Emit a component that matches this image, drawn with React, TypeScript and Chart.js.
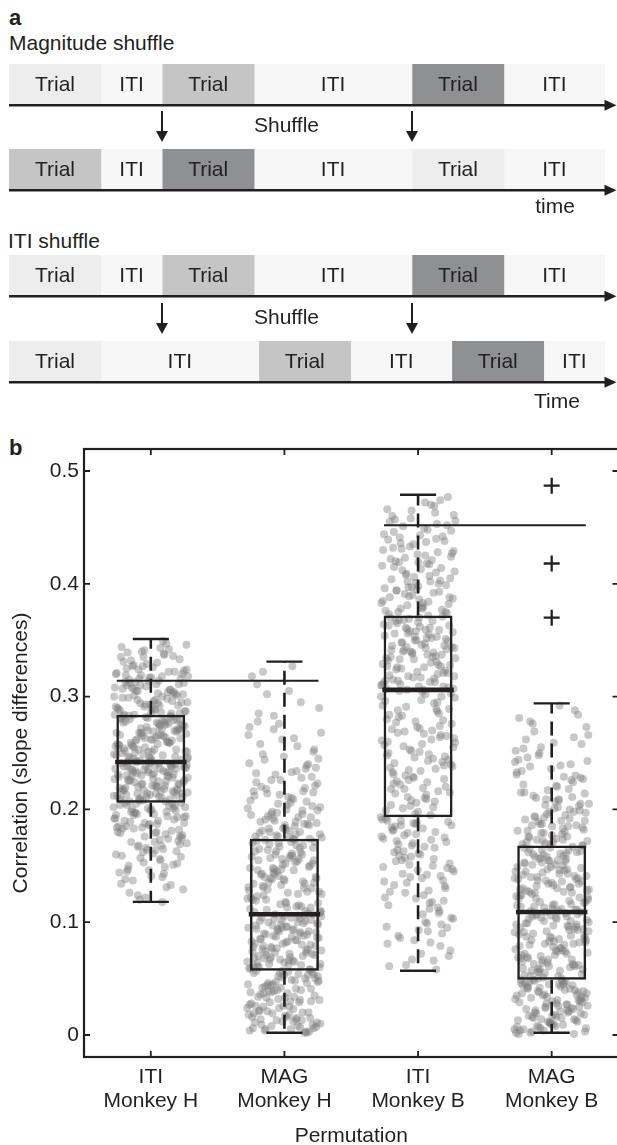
import React, { useEffect, useRef } from 'react';
import { Chart, registerables } from 'chart.js';

Chart.register(...registerables);

const FONT = '"Liberation Sans", Arial, Helvetica, sans-serif';
const INK = '#231f20';
Chart.defaults.font.family = FONT;
Chart.defaults.color = INK;

// ---------------- Panel a: timeline schematic ----------------
const SEGMENT_LABELS = ['Trial', 'ITI', 'Trial', 'ITI', 'Trial', 'ITI'];
const ORIGINAL_DURATIONS = [3, 2, 3, 5.15, 3, 3.3];
const ITI_SHUFFLED_DURATIONS = [3, 5.15, 3, 3.3, 3, 2];
const ORIGINAL_SHADES = ['trialA', 'iti', 'trialB', 'iti', 'trialC', 'iti'];
const MAG_SHUFFLED_SHADES = ['trialB', 'iti', 'trialC', 'iti', 'trialA', 'iti'];

// ---------------- Panel b: permutation box plots ----------------
const CATEGORIES = [
  ['ITI', 'Monkey H'],
  ['MAG', 'Monkey H'],
  ['ITI', 'Monkey B'],
  ['MAG', 'Monkey B'],
];
const Y_TICKS = [0, 0.1, 0.2, 0.3, 0.4, 0.5];
const Y_TICK_LABELS = ['0', '0.1', '0.2', '0.3', '0.4', '0.5'];
const Y_TITLE = 'Correlation (slope differences)';
const X_TITLE = 'Permutation';

const Q1 = [0.206, 0.057, 0.193, 0.049];
const MEDIAN = [0.242, 0.107, 0.306, 0.109];
const Q3 = [0.284, 0.174, 0.372, 0.168];
const WHISKER_LOW = [0.118, 0.002, 0.057, 0.002];
const WHISKER_HIGH = [0.351, 0.331, 0.479, 0.294];
const OUTLIER_GROUP = 4;
const OUTLIERS = [0.37, 0.418, 0.487];
const REF_LINE_VALUES = [0.314, 0.452];
const REF_LINE_GROUPS = [[1, 2], [3, 4]];

// permutation values (thousandths)
const ITI_MONKEY_H = [
  173, 198, 152, 186, 204, 131, 167, 193, 179, 145, 201, 188, 160, 118, 195, 176, 141, 183, 203, 157,
  170, 190, 126, 199, 164, 185, 149, 205, 177, 196, 138, 181, 162, 192, 155, 200, 172, 187, 134, 194,
  168, 202, 180, 147, 191, 122, 184, 165, 197, 158,
  221, 238, 209, 230, 215, 241, 226, 212, 235, 219, 207, 232, 224, 239, 213, 228, 217, 236, 210, 233,
  222, 242, 216, 229, 208, 237, 220, 225, 240, 211, 231, 218, 234, 214, 227, 206, 239, 223, 212, 236,
  229, 217, 241, 209, 233, 220, 226, 214, 238, 231,
  263, 248, 279, 255, 271, 244, 283, 259, 267, 251, 276, 246, 269, 281, 257, 264, 243, 274, 253, 278,
  261, 249, 284, 266, 256, 272, 245, 280, 260, 268, 252, 277, 247, 270, 282, 258, 265, 250, 275, 262,
  254, 283, 268, 246, 273, 259, 279, 251, 266, 277,
  297, 312, 288, 325, 303, 341, 291, 318, 307, 333, 286, 299, 322, 310, 346, 294, 315, 302, 329, 289,
  337, 305, 320, 296, 313, 285, 327, 300, 343, 308, 292, 317, 335, 298, 324, 287, 311, 339, 304, 293,
  321, 349, 301, 316, 290, 331, 306, 319, 295, 314,
  189, 163, 201, 144, 178, 196, 129, 171, 185, 205, 153, 192, 168, 137, 182, 199, 159, 174, 120, 194,
  187, 150, 203, 166, 180, 143, 197, 175, 161, 190, 133, 184, 202, 156, 171, 193, 146, 179, 198, 124,
  188, 164, 204, 151, 176, 195, 140, 183, 169, 200,
  218, 233, 210, 240, 225, 207, 236, 214, 229, 221, 242, 211, 232, 219, 238, 208, 227, 216, 235, 223,
  213, 241, 230, 209, 237, 220, 226, 215, 239, 212, 234, 224, 206, 231, 217, 240, 222, 228, 211, 236,
  218, 233, 209, 225, 214, 238, 221, 230, 216, 235,
  256, 271, 245, 280, 262, 250, 276, 243, 267, 258, 283, 247, 273, 254, 278, 261, 244, 269, 252, 282,
  265, 249, 275, 257, 270, 246, 281, 260, 253, 274, 264, 242, 279, 255, 268, 248, 284, 263, 251, 277,
  259, 272, 245, 266, 280, 253, 270, 257, 275, 262,
  302, 289, 319, 296, 335, 308, 286, 327, 311, 293, 344, 304, 316, 287, 330, 299, 322, 309, 290, 338,
  313, 295, 326, 284, 306, 340, 318, 292, 332, 301, 314, 288, 347, 305, 323, 297, 310, 336, 291, 320,
  300, 328, 285, 317, 307, 342, 294, 324, 303, 312,
];
const MAG_MONKEY_H = [
  23, 4, 41, 12, 55, 31, 8, 47, 18, 36, 2, 52, 27, 14, 44, 6, 33, 57, 20, 39,
  10, 49, 25, 3, 42, 16, 54, 29, 7, 37, 21, 50, 13, 45, 34, 5, 56, 26, 11, 40,
  19, 48, 30, 9, 53, 24, 38, 15, 46, 35,
  82, 61, 99, 73, 105, 66, 90, 58, 95, 78, 103, 69, 86, 62, 101, 75, 93, 59, 84, 71,
  107, 64, 97, 80, 88, 60, 104, 76, 92, 67, 83, 100, 63, 79, 96, 70, 106, 87, 65, 94,
  74, 102, 81, 68, 91, 77, 98, 72, 85, 89,
  141, 112, 168, 129, 155, 118, 172, 136, 147, 109, 161, 124, 150, 133, 170, 115, 157, 139, 126, 165,
  110, 145, 131, 173, 120, 152, 138, 163, 114, 148, 127, 159, 143, 108, 167, 122, 154, 135, 171, 117,
  146, 130, 160, 125, 174, 140, 113, 156, 134, 166,
  196, 223, 181, 258, 207, 176, 241, 189, 302, 215, 184, 232, 199, 271, 178, 210, 249, 186, 226, 318,
  193, 180, 237, 204, 285, 219, 177, 201, 263, 191, 229, 183, 212, 295, 198, 245, 175, 220, 187, 276,
  208, 234, 194, 253, 182, 311, 216, 190, 268, 327,
  37, 15, 51, 6, 29, 44, 11, 56, 22, 3, 40, 18, 48, 33, 9, 53, 26, 13, 45, 31,
  5, 42, 20, 55, 28, 8, 39, 50, 16, 34, 2, 47, 24, 12, 43, 30, 57, 19, 7, 38,
  52, 25, 14, 46, 32, 4, 41, 21, 54, 17,
  94, 70, 103, 63, 87, 79, 58, 98, 74, 106, 67, 91, 83, 60, 101, 77, 95, 65, 89, 72,
  105, 81, 62, 97, 86, 69, 104, 76, 92, 59, 84, 100, 71, 96, 64, 88, 107, 75, 93, 68,
  80, 102, 61, 90, 78, 99, 66, 85, 73, 94,
  128, 153, 111, 166, 137, 119, 160, 144, 108, 171, 132, 149, 116, 158, 125, 169, 140, 113, 155, 134,
  163, 121, 146, 173, 130, 151, 109, 162, 138, 117, 157, 142, 127, 170, 148, 114, 164, 135, 152, 123,
  168, 143, 110, 159, 131, 174, 147, 120, 156, 139,
  188, 211, 179, 236, 197, 266, 185, 218, 203, 247, 176, 228, 192, 290, 206, 181, 240, 213, 195, 256,
  183, 221, 200, 278, 187, 231, 175, 209, 244, 193, 262, 216, 180, 226, 199, 305, 189, 239, 205, 273,
  178, 214, 251, 186, 224, 196, 283, 202, 233, 322,
];
const ITI_MONKEY_B = [
  142, 88, 175, 121, 190, 66, 157, 104, 183, 133, 79, 168, 149, 112, 186, 95, 161, 127, 58, 179,
  145, 100, 172, 137, 84, 192, 118, 163, 152, 72, 181, 108, 140, 176, 92, 159, 130, 188, 115, 166,
  62, 147, 124, 185, 98, 170, 136, 82, 155, 189,
  251, 204, 287, 226, 299, 213, 268, 239, 196, 280, 245, 218, 303, 258, 231, 274, 208, 292, 249, 222,
  265, 198, 284, 236, 306, 255, 210, 277, 242, 228, 296, 262, 201, 289, 234, 271, 216, 253, 300, 224,
  282, 247, 206, 260, 294, 230, 276, 219, 241, 266,
  338, 312, 361, 325, 349, 309, 370, 331, 356, 318, 343, 365, 321, 353, 307, 335, 368, 328, 346, 315,
  359, 340, 310, 372, 333, 351, 322, 363, 313, 344, 357, 326, 367, 337, 317, 354, 330, 348, 308, 362,
  341, 320, 369, 334, 352, 314, 345, 358, 327, 339,
  391, 424, 378, 446, 403, 465, 385, 417, 436, 374, 398, 455, 410, 381, 429, 472, 394, 442, 406, 376,
  421, 451, 388, 413, 460, 400, 433, 383, 448, 419, 375, 395, 439, 469, 408, 427, 380, 457, 414, 390,
  444, 402, 431, 477, 386, 422, 453, 397, 411, 437,
  164, 119, 187, 96, 150, 177, 75, 139, 182, 110, 158, 191, 128, 86, 171, 146, 61, 180, 135, 103,
  167, 154, 90, 188, 122, 173, 143, 70, 160, 184, 113, 151, 193, 99, 169, 132, 178, 81, 156, 126,
  186, 107, 162, 141, 67, 174, 117, 190, 148, 93,
  237, 289, 211, 263, 302, 225, 279, 246, 199, 270, 256, 215, 297, 233, 285, 203, 261, 243, 305, 220,
  273, 250, 207, 291, 238, 267, 214, 300, 229, 257, 195, 283, 244, 272, 218, 295, 235, 259, 209, 288,
  227, 278, 248, 202, 269, 240, 304, 223, 264, 252,
  329, 355, 311, 342, 366, 319, 336, 360, 307, 347, 324, 371, 333, 314, 352, 340, 363, 317, 345, 328,
  358, 310, 337, 368, 323, 350, 332, 316, 361, 344, 306, 356, 327, 339, 364, 313, 348, 321, 370, 335,
  353, 318, 343, 359, 326, 309, 350, 334, 367, 341,
  405, 379, 432, 393, 458, 416, 384, 441, 399, 426, 373, 463, 409, 387, 449, 420, 377, 435, 396, 470,
  412, 382, 443, 404, 428, 389, 456, 418, 375, 438, 401, 466, 392, 423, 447, 383, 415, 474, 397, 430,
  407, 378, 452, 419, 388, 440, 402, 461, 425, 394,
];
const MAG_MONKEY_B = [
  21, 3, 38, 11, 46, 27, 7, 33, 16, 43, 1, 24, 35, 9, 48, 19, 30, 5, 41, 14,
  26, 45, 2, 36, 12, 29, 47, 8, 39, 18, 23, 44, 4, 32, 15, 49, 25, 10, 37, 20,
  42, 6, 31, 17, 40, 28, 13, 46, 22, 34,
  78, 53, 101, 66, 92, 57, 84, 107, 61, 95, 72, 50, 88, 104, 69, 81, 55, 98, 75, 63,
  109, 86, 59, 93, 70, 102, 52, 80, 96, 64, 89, 74, 106, 58, 83, 99, 67, 51, 91, 77,
  105, 62, 87, 71, 97, 56, 82, 103, 68, 94,
  137, 115, 159, 126, 148, 112, 166, 131, 153, 120, 143, 110, 162, 134, 124, 156, 140, 117, 151, 128,
  167, 113, 145, 136, 160, 122, 149, 130, 164, 118, 141, 155, 127, 111, 158, 138, 146, 121, 168, 133,
  152, 116, 144, 129, 161, 125, 139, 154, 114, 147,
  189, 214, 174, 246, 198, 170, 231, 183, 269, 205, 177, 222, 192, 255, 172, 208, 238, 186, 217, 281,
  195, 173, 227, 201, 262, 211, 179, 242, 190, 276, 203, 169, 234, 185, 250, 197, 220, 176, 288, 209,
  181, 229, 193, 258, 171, 215, 240, 187, 266, 292,
  33, 12, 45, 4, 27, 39, 18, 8, 42, 23, 36, 2, 48, 15, 30, 10, 44, 21, 6, 37,
  26, 47, 13, 34, 1, 40, 19, 29, 9, 46, 24, 35, 5, 43, 16, 31, 11, 49, 22, 38,
  3, 28, 41, 14, 25, 7, 45, 20, 32, 17,
  91, 60, 104, 73, 85, 52, 98, 67, 79, 108, 56, 94, 71, 87, 63, 101, 76, 50, 90, 82,
  106, 65, 96, 58, 84, 74, 103, 61, 92, 69, 80, 107, 54, 97, 72, 88, 64, 100, 77, 57,
  93, 83, 68, 105, 59, 86, 75, 99, 62, 81,
  123, 150, 114, 163, 135, 142, 119, 157, 128, 110, 165, 138, 147, 121, 154, 132, 168, 116, 145, 126,
  160, 139, 112, 151, 134, 166, 124, 143, 156, 118, 130, 162, 141, 109, 149, 127, 158, 136, 115, 153,
  131, 164, 122, 146, 140, 111, 155, 129, 161, 137,
  182, 207, 171, 224, 193, 252, 178, 212, 199, 236, 169, 218, 187, 273, 202, 175, 230, 196, 244, 180,
  210, 184, 259, 191, 226, 172, 205, 239, 186, 284, 198, 215, 176, 248, 190, 221, 181, 264, 204, 233,
  173, 194, 228, 185, 254, 200, 179, 243, 209, 278,
];
const GROUP_VALUES = [ITI_MONKEY_H, MAG_MONKEY_H, ITI_MONKEY_B, MAG_MONKEY_B];

// ---------------- styles ----------------
const SHADE_COLORS: Record<string, string> = {
  trialA: '#ededed',
  iti: '#f7f7f7',
  trialB: '#c5c5c6',
  trialC: '#8f9092',
};
const POINT_COLOR = 'rgba(125,125,125,0.42)';
const JITTER_HALF = 0.28;
const GOLDEN = 0.6180339887;
const BOX_HALF = 0.255;
const CAP_HALF = 0.135;

const rowPlugin = {
  id: 'rowDecor',
  afterDatasetsDraw(chart: any) {
    const { ctx, chartArea } = chart;
    ctx.save();
    ctx.fillStyle = INK;
    ctx.font = `21px ${FONT}`;
    ctx.textAlign = 'center';
    ctx.textBaseline = 'middle';
    chart.data.datasets.forEach((ds: any, i: number) => {
      const el = chart.getDatasetMeta(i).data[0];
      const { x, base, y } = el.getProps(['x', 'base', 'y'], true);
      ctx.fillText(ds.label, (x + base) / 2, y + 1);
    });
    const ly = chartArea.bottom + 1.2;
    const w = chart.width;
    ctx.strokeStyle = INK;
    ctx.lineWidth = 2.6;
    ctx.beginPath();
    ctx.moveTo(chartArea.left, ly);
    ctx.lineTo(w - 10, ly);
    ctx.stroke();
    ctx.beginPath();
    ctx.moveTo(w - 0.5, ly);
    ctx.lineTo(w - 12.5, ly - 5.5);
    ctx.lineTo(w - 12.5, ly + 5.5);
    ctx.closePath();
    ctx.fill();
    ctx.restore();
  },
};

function TimelineRow({ top, durations, shades }: any) {
  const ref = useRef<HTMLCanvasElement>(null);
  useEffect(() => {
    const total = durations.reduce((a: number, b: number) => a + b, 0);
    const chart = new Chart(ref.current as HTMLCanvasElement, {
      type: 'bar',
      data: {
        labels: [''],
        datasets: durations.map((d: number, i: number) => ({
          label: SEGMENT_LABELS[i],
          data: [d],
          backgroundColor: SHADE_COLORS[shades[i]],
          borderWidth: 0,
          barPercentage: 1,
          categoryPercentage: 1,
        })),
      },
      options: {
        indexAxis: 'y',
        animation: false,
        responsive: false,
        events: [],
        layout: { padding: { left: 9, right: 12, top: 0, bottom: 12 }, autoPadding: false },
        scales: {
          x: { stacked: true, display: false, min: 0, max: total },
          y: { stacked: true, display: false },
        },
        plugins: { legend: { display: false }, tooltip: { enabled: false } },
      } as any,
      plugins: [rowPlugin],
    });
    return () => chart.destroy();
  }, []);
  return (
    <canvas
      ref={ref}
      width={617}
      height={52}
      style={{ position: 'absolute', left: 0, top, width: 617, height: 52 }}
    />
  );
}

function Label({ text, left, top, size = 21, bold = false, width, align = 'left' }: any) {
  return (
    <div
      style={{
        position: 'absolute',
        left,
        top,
        width,
        fontSize: size,
        lineHeight: `${size}px`,
        fontWeight: bold ? 700 : 400,
        textAlign: align,
        whiteSpace: 'nowrap',
        color: INK,
        fontFamily: FONT,
      }}
    >
      {text}
    </div>
  );
}

function DownArrow({ x, top }: any) {
  return (
    <>
      <div style={{ position: 'absolute', left: x - 1, top, width: 2, height: 22, background: INK }} />
      <div
        style={{
          position: 'absolute',
          left: x - 6,
          top: top + 20,
          width: 0,
          height: 0,
          borderLeft: '6px solid transparent',
          borderRight: '6px solid transparent',
          borderTop: `11px solid ${INK}`,
        }}
      />
    </>
  );
}

const framePlugin = {
  id: 'frame',
  afterDraw(chart: any) {
    const { ctx, chartArea, scales } = chart;
    const { left, right, top, bottom } = chartArea;
    ctx.save();
    ctx.strokeStyle = INK;
    ctx.lineWidth = 2.2;
    ctx.strokeRect(left, top, right - left, bottom - top);
    ctx.lineWidth = 1.8;
    ctx.beginPath();
    Y_TICKS.forEach((v) => {
      const py = scales.y.getPixelForValue(v);
      ctx.moveTo(left, py);
      ctx.lineTo(left + 6, py);
      ctx.moveTo(right, py);
      ctx.lineTo(right - 6, py);
    });
    CATEGORIES.forEach((_, i) => {
      const px = scales.x.getPixelForValue(i + 1);
      ctx.moveTo(px, bottom);
      ctx.lineTo(px, bottom - 6);
      ctx.moveTo(px, top);
      ctx.lineTo(px, top + 6);
    });
    ctx.stroke();
    ctx.restore();
  },
};

function zeroPadding(s: any) {
  s.paddingLeft = 0;
  s.paddingRight = 0;
  s.paddingTop = 0;
  s.paddingBottom = 0;
}

function BoxPlotChart() {
  const ref = useRef<HTMLCanvasElement>(null);
  useEffect(() => {
    const scatterSets = GROUP_VALUES.map((vals, g) => ({
      type: 'scatter',
      data: vals.map((v, i) => ({
        x: g + 1 + ((((i + 1) * GOLDEN) % 1) - 0.5) * 2 * JITTER_HALF,
        y: v / 1000,
      })),
      pointRadius: 4,
      pointBackgroundColor: POINT_COLOR,
      pointBorderWidth: 0,
      borderWidth: 0,
      order: 10,
    }));

    const whiskers: any[] = [];
    const caps: any[] = [];
    const medians: any[] = [];
    CATEGORIES.forEach((_, g) => {
      const c = g + 1;
      whiskers.push(
        { x: c, y: Q3[g] }, { x: c, y: WHISKER_HIGH[g] }, { x: c, y: null },
        { x: c, y: Q1[g] }, { x: c, y: WHISKER_LOW[g] }, { x: c, y: null },
      );
      caps.push(
        { x: c - CAP_HALF, y: WHISKER_HIGH[g] }, { x: c + CAP_HALF, y: WHISKER_HIGH[g] }, { x: c, y: null },
        { x: c - CAP_HALF, y: WHISKER_LOW[g] }, { x: c + CAP_HALF, y: WHISKER_LOW[g] }, { x: c, y: null },
      );
      medians.push(
        { x: c - BOX_HALF - 0.012, y: MEDIAN[g] }, { x: c + BOX_HALF + 0.012, y: MEDIAN[g] }, { x: c, y: null },
      );
    });
    const refLines: any[] = [];
    REF_LINE_VALUES.forEach((v, k) => {
      const [a, b] = REF_LINE_GROUPS[k];
      refLines.push({ x: a - BOX_HALF, y: v }, { x: b + BOX_HALF, y: v }, { x: b, y: null });
    });

    const chart = new Chart(ref.current as HTMLCanvasElement, {
      type: 'scatter',
      data: {
        datasets: [
          ...scatterSets,
          {
            type: 'bar',
            data: CATEGORIES.map((_, g) => ({ x: g + 1, y: [Q1[g], Q3[g]] })),
            backgroundColor: 'rgba(0,0,0,0)',
            borderColor: INK,
            borderWidth: 2.5,
            borderSkipped: false,
            barPercentage: 0.516,
            categoryPercentage: 1,
            order: 5,
          },
          {
            type: 'line',
            data: whiskers,
            borderColor: INK,
            borderWidth: 2.6,
            borderDash: [14, 8],
            pointRadius: 0,
            spanGaps: false,
            fill: false,
            order: 4,
          },
          {
            type: 'line',
            data: caps,
            borderColor: INK,
            borderWidth: 2.4,
            pointRadius: 0,
            spanGaps: false,
            fill: false,
            order: 4,
          },
          {
            type: 'line',
            data: medians,
            borderColor: INK,
            borderWidth: 4.6,
            pointRadius: 0,
            spanGaps: false,
            fill: false,
            order: 3,
          },
          {
            type: 'line',
            data: refLines,
            borderColor: INK,
            borderWidth: 2,
            pointRadius: 0,
            spanGaps: false,
            fill: false,
            order: 2,
          },
          {
            type: 'scatter',
            data: OUTLIERS.map((v) => ({ x: OUTLIER_GROUP, y: v })),
            pointStyle: 'cross',
            pointRadius: 8,
            pointBorderColor: INK,
            borderColor: INK,
            pointBorderWidth: 2.3,
            order: 1,
          },
        ],
      },
      options: {
        animation: false,
        responsive: false,
        events: [],
        layout: { padding: { left: 0, right: 21.5, top: 9, bottom: 0 }, autoPadding: false },
        plugins: { legend: { display: false }, tooltip: { enabled: false } },
        scales: {
          x: {
            type: 'linear',
            offset: false,
            min: 0.5,
            max: 4.5,
            afterBuildTicks: (s: any) => {
              s.ticks = CATEGORIES.map((_, i) => ({ value: i + 1 }));
            },
            afterFit: (s: any) => {
              s.height = 88;
              zeroPadding(s);
            },
            ticks: {
              callback: (_v: any, i: number) => CATEGORIES[i],
              font: { size: 21, family: FONT, lineHeight: 1.15 },
              color: INK,
              padding: 8,
              maxRotation: 0,
              autoSkip: false,
            },
            grid: { display: false, drawTicks: false, offset: false },
            border: { display: false },
            title: {
              display: true,
              text: X_TITLE,
              color: INK,
              font: { size: 21, family: FONT, lineHeight: 0.85 },
              padding: { top: 0, bottom: 0 },
            },
          },
          y: {
            type: 'linear',
            offset: false,
            min: -0.0195,
            max: 0.5195,
            afterBuildTicks: (s: any) => {
              s.ticks = Y_TICKS.map((v) => ({ value: v }));
            },
            afterFit: (s: any) => {
              s.width = 84;
              zeroPadding(s);
            },
            ticks: {
              callback: (_v: any, i: number) => Y_TICK_LABELS[i],
              font: { size: 21, family: FONT },
              color: INK,
              padding: 5,
            },
            grid: { display: false, drawTicks: false },
            border: { display: false },
            title: {
              display: true,
              text: Y_TITLE,
              color: INK,
              font: { size: 21, family: FONT, lineHeight: 1 },
              padding: { top: 11, bottom: 0 },
            },
          },
        },
      } as any,
      plugins: [framePlugin],
    });
    return () => chart.destroy();
  }, []);
  return (
    <canvas
      ref={ref}
      width={640}
      height={705}
      style={{ position: 'absolute', left: 0, top: 440, width: 640, height: 705 }}
    />
  );
}

const ROWS = [
  { top: 64, durations: ORIGINAL_DURATIONS, shades: ORIGINAL_SHADES },
  { top: 149, durations: ORIGINAL_DURATIONS, shades: MAG_SHUFFLED_SHADES },
  { top: 255, durations: ORIGINAL_DURATIONS, shades: ORIGINAL_SHADES },
  { top: 341, durations: ITI_SHUFFLED_DURATIONS, shades: ORIGINAL_SHADES },
];

export default function App() {
  return (
    <div
      style={{
        position: 'absolute',
        left: 0,
        top: 0,
        width: 617,
        height: 1145,
        overflow: 'hidden',
        background: '#fff',
        fontFamily: FONT,
      }}
    >
      <Label text="a" left={9} top={7} size={22} bold />
      <Label text="Magnitude shuffle" left={9} top={32} />
      {ROWS.map((r, i) => (
        <TimelineRow key={i} top={r.top} durations={r.durations} shades={r.shades} />
      ))}
      <DownArrow x={162} top={111} />
      <DownArrow x={412} top={111} />
      <Label text="Shuffle" left={254} top={114} />
      <Label text="time" left={515} top={195} width={80} align="center" />
      <Label text="ITI shuffle" left={8} top={230} />
      <DownArrow x={162} top={303} />
      <DownArrow x={412} top={303} />
      <Label text="Shuffle" left={254} top={306} />
      <Label text="Time" left={517} top={390} width={80} align="center" />
      <Label text="b" left={9} top={437} size={22} bold />
      <BoxPlotChart />
    </div>
  );
}
